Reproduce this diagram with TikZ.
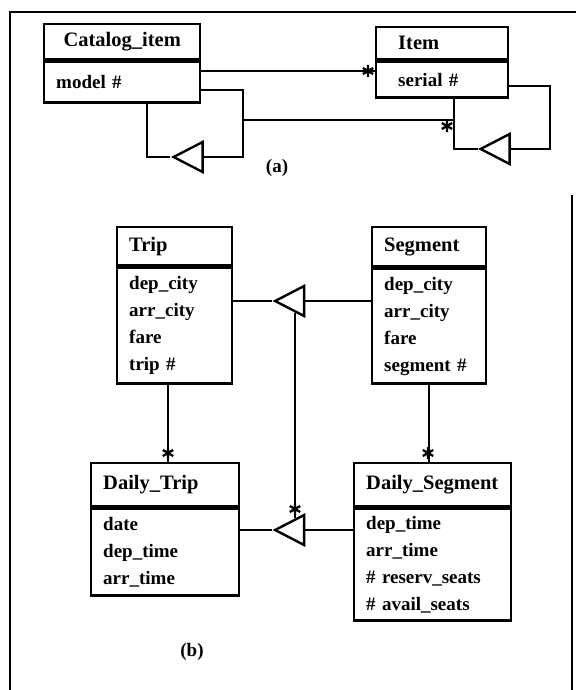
\documentclass[tikz,border=0pt]{standalone}
\usepackage{fontspec}
\setmainfont{Liberation Serif}
\usetikzlibrary{shapes.geometric, calc}

% asterisk for "many"
\newcommand{\manystar}[1]{%
  \draw[line width=2.3pt] (#1) +(0,-6) -- +(0,6)
    +(-5.2,-3) -- +(5.2,3) +(-5.2,3) -- +(5.2,-3);}

\tikzset{
  classhead/.style={draw, line width=2.4pt, anchor=north west, align=left,
    inner xsep=12pt, font=\bfseries\fontsize{20.5}{24}\selectfont},
  classbody/.style={draw, line width=2.4pt, anchor=north west, align=left,
    inner xsep=12pt, font=\bfseries\fontsize{19}{27}\selectfont},
  gen/.style={draw, line width=2.4pt, isosceles triangle, shape border rotate=180,
    isosceles triangle stretches, minimum width=30pt, minimum height=29pt, inner sep=0pt},
  link/.style={line width=2.4pt},
  tag/.style={font=\bfseries\fontsize{19}{22}\selectfont},
}

\begin{document}
\begin{tikzpicture}[x=1pt, y=-1pt]
  \useasboundingbox (0,0) rectangle (576,690);
  % frame
  \draw[link] (10,690) -- (10,12) -- (576,12);
  \draw[link] (572,195) -- (572,690);

  % (a)
  \node[classhead, text width=132pt, align=center, minimum height=35pt] (cathead) at (43,23) {Catalog\_item};
  \node[classbody, text width=132pt, minimum height=41pt] (catbody) at (cathead.south west) {model \#};
  \node[classhead, text width=108pt, minimum height=32pt] (itemhead) at (375,26) {\hspace*{10pt}Item};
  \node[classbody, text width=108pt, minimum height=36pt] (itembody) at (itemhead.south west) {\hspace*{10pt}serial \#};

  \node[gen] (catgen) at (193.5,157) {};
  \node[gen] (itemgen) at (500.5,149) {};

  \draw[link] (catbody.east |- 0,71) -- (itembody.west |- 0,71);
  \manystar{368,71}
  \draw[link] (catbody.south -| 147,0) -- (147,157) -- (catgen.apex);
  \draw[link] (catgen.lower side) -- (243,157) -- (243,90) -- (catbody.east |- 0,90);
  \draw[link] (itembody.south -| 454,0) -- (454,149) -- (itemgen.apex);
  \draw[link] (itemgen.lower side) -- (550,149) -- (550,86) -- (itembody.east |- 0,86);
  \draw[link] (243,120) -- (454,120);
  \manystar{447,126}

  \node[tag] (labela) at (277,168) {(a)};

  % (b)
  \node[classhead, text width=91pt, minimum height=38pt] (triphead) at (116,226) {Trip};
  \node[classbody, text width=91pt, minimum height=116pt] (tripbody) at (triphead.south west)
    {dep\_city\\arr\_city\\fare\\trip \#};
  \node[classhead, text width=90pt, minimum height=39pt] (seghead) at (371,226) {Segment};
  \node[classbody, text width=90pt, minimum height=115pt] (segbody) at (seghead.south west)
    {dep\_city\\arr\_city\\fare\\segment \#};
  \node[classhead, text width=124pt, minimum height=43pt] (dtriphead) at (90,462) {Daily\_Trip};
  \node[classbody, text width=124pt, minimum height=87pt] (dtripbody) at (dtriphead.south west)
    {date\\dep\_time\\arr\_time};
  \node[classhead, text width=133pt, minimum height=43pt] (dseghead) at (353,462) {Daily\_Segment};
  \node[classbody, text width=133pt, minimum height=112pt] (dsegbody) at (dseghead.south west)
    {dep\_time\\arr\_time\\\# reserv\_seats\\\# avail\_seats};

  \node[gen] (toptri) at (295,301) {};
  \node[gen] (bottri) at (295,530) {};

  \draw[link] (tripbody.east |- toptri.apex) -- (toptri.apex);
  \draw[link] (toptri.lower side) -- (segbody.west |- toptri.lower side);
  \draw[link] (dtripbody.east |- bottri.apex) -- (bottri.apex);
  \draw[link] (bottri.lower side) -- (dsegbody.west |- bottri.lower side);
  \draw[link] (toptri) -- (bottri);
  \manystar{295,509}

  \draw[link] (tripbody.south -| 168,0) -- (dtriphead.north -| 168,0);
  \manystar{168,453}
  \draw[link] (segbody.south) -- (segbody.south |- dseghead.north);
  \manystar{428,453}

  \node[tag] (labelb) at (192,652) {(b)};
\end{tikzpicture}
\end{document}
